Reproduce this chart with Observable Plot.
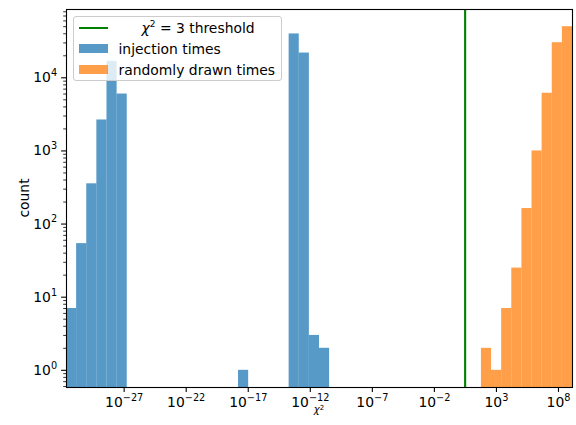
<!DOCTYPE html>
<html><head><meta charset="utf-8">
<script src="https://cdn.jsdelivr.net/npm/d3@7"></script>
<script src="https://cdn.jsdelivr.net/npm/@observablehq/plot@0.6"></script>
<style>
body{margin:0;background:#fff;font-family:"DejaVu Sans",sans-serif;}
#wrap{position:relative;width:576px;height:425px;}
.legend{position:absolute;left:72.5px;top:15.5px;width:209px;height:65px;border:1px solid #cccccc;border-radius:3px;background:rgba(255,255,255,0.8);box-sizing:border-box;}
.legend .row{position:absolute;left:0;height:14px;}
.legend .sw{position:absolute;left:5px;width:29px;}
.legend .lab{position:absolute;left:45px;font-size:13.9px;line-height:14px;white-space:nowrap;color:#000;}
</style></head><body><div id="wrap"></div>
<script>
// histogram bins: log10 edges span and count of bins
const binEdgeMinExp = -31.645, binEdgeMaxExp = 9.129, nBins = 50;
// injection times histogram (bin index, count)
const injectionBins = [0, 1, 2, 3, 4, 5, 17, 22, 23, 24, 25];
const injectionCounts = [7, 54, 355, 2650, 16800, 6000, 1, 39800, 21800, 3, 2];
// randomly drawn times histogram (bin index, count)
const randomBins = [41, 42, 43, 44, 45, 46, 47, 48, 49];
const randomCounts = [2, 1, 7, 25, 163, 1000, 6150, 30200, 50000];
const threshold = 3;
const xTickExps = [-27, -22, -17, -12, -7, -2, 3, 8];
const yTickExps = [0, 1, 2, 3, 4];
const yDomainExp = [-0.235, 4.934];
const legendLabels = ["injection times", "randomly drawn times"];

const w = (binEdgeMaxExp - binEdgeMinExp) / nBins;
const yMin = 10 ** yDomainExp[0], yMax = 10 ** yDomainExp[1];
function toRows(bins, counts, series) {
  return bins.map((b, i) => ({
    x1: 10 ** (binEdgeMinExp + b * w),
    x2: 10 ** (binEdgeMinExp + (b + 1) * w),
    count: counts[i], series
  }));
}
const injRows = toRows(injectionBins, injectionCounts, legendLabels[0]);
const rndRows = toRows(randomBins, randomCounts, legendLabels[1]);
const xTicks = xTickExps.map(e => 10 ** e);
const yTicks = yTickExps.map(e => 10 ** e);
const yMinor = [];
for (let k = -1; k <= 4; k++) for (let m = 2; m <= 9; m++) {
  const v = m * 10 ** k; if (v >= yMin && v <= yMax) yMinor.push(v);
}
const expFmt = d => "10^" + Math.round(Math.log10(d));

const chart = Plot.plot({
  width: 576, height: 425,
  marginLeft: 66, marginRight: 4, marginTop: 9, marginBottom: 38,
  style: {fontFamily: "DejaVu Sans, sans-serif", fontSize: "13.9px", background: "white", color: "black"},
  x: {type: "log", domain: [10 ** binEdgeMinExp, 10 ** binEdgeMaxExp]},
  y: {type: "log", domain: [yMin, yMax]},
  marks: [
    Plot.rect(injRows, {x1: "x1", x2: "x2", y1: yMin, y2: "count", fill: "#1f77b4", fillOpacity: 0.75}),
    Plot.rect(rndRows, {x1: "x1", x2: "x2", y1: yMin, y2: "count", fill: "#ff7f0e", fillOpacity: 0.75}),
    Plot.ruleX([threshold], {stroke: "#008000", strokeWidth: 2.1}),
    Plot.axisX({ticks: xTicks, tickFormat: expFmt, tickSize: 4.9, tickPadding: 4.5, strokeWidth: 1.1, label: null, fontSize: 13.9}),
    Plot.axisY({ticks: yMinor, tickFormat: () => "", tickSize: 2.8, strokeWidth: 0.8, label: null}),
    Plot.axisY({ticks: yTicks, tickFormat: expFmt, tickSize: 4.9, tickPadding: 4.5, strokeWidth: 1.1, label: null, fontSize: 13.9}),
    Plot.frame({stroke: "black", strokeWidth: 1.1})
  ]
});

// render exponent labels with superscripts
d3.select(chart).selectAll("text").each(function() {
  const t = this.textContent;
  const m = /^10\^(-?\d+)$/.exec(t);
  if (!m) return;
  const sel = d3.select(this);
  sel.text(null);
  sel.append("tspan").text("10");
  sel.append("tspan").attr("dy", "-0.62em").attr("font-size", "0.7em").text(m[1].replace("-", "\u2212"));
});
const svg = d3.select(chart);
svg.append("text").attr("transform", "translate(24,198) rotate(-90)").attr("text-anchor", "middle")
  .attr("dominant-baseline", "central").attr("font-size", 13.9).text("count");
const xl = svg.append("text").attr("x", 319).attr("y", 413).attr("text-anchor", "middle").attr("font-size", 10).attr("font-style", "italic");
xl.append("tspan").text("\u03c7");
xl.append("tspan").attr("dy", "-0.5em").attr("font-size", "0.7em").attr("font-style", "normal").text("2");

const wrap = document.getElementById("wrap");
wrap.appendChild(chart);

// legend
const lg = document.createElement("div");
lg.className = "legend";
lg.innerHTML =
  '<div class="row" style="top:4px;width:100%"><div class="sw" style="top:6px;height:2px;background:#008000"></div>' +
  '<div class="lab" style="left:68px"><i>\u03c7</i><sup style="font-size:9px;vertical-align:6px;line-height:0">2</sup> = 3 threshold</div></div>' +
  '<div class="row" style="top:25px;width:100%"><div class="sw" style="top:2px;height:9px;background:#1f77b4;opacity:0.75"></div>' +
  '<div class="lab">' + legendLabels[0] + '</div></div>' +
  '<div class="row" style="top:46px;width:100%"><div class="sw" style="top:2px;height:9px;background:#ff7f0e;opacity:0.75"></div>' +
  '<div class="lab">' + legendLabels[1] + '</div></div>';
wrap.appendChild(lg);
</script></body></html>
